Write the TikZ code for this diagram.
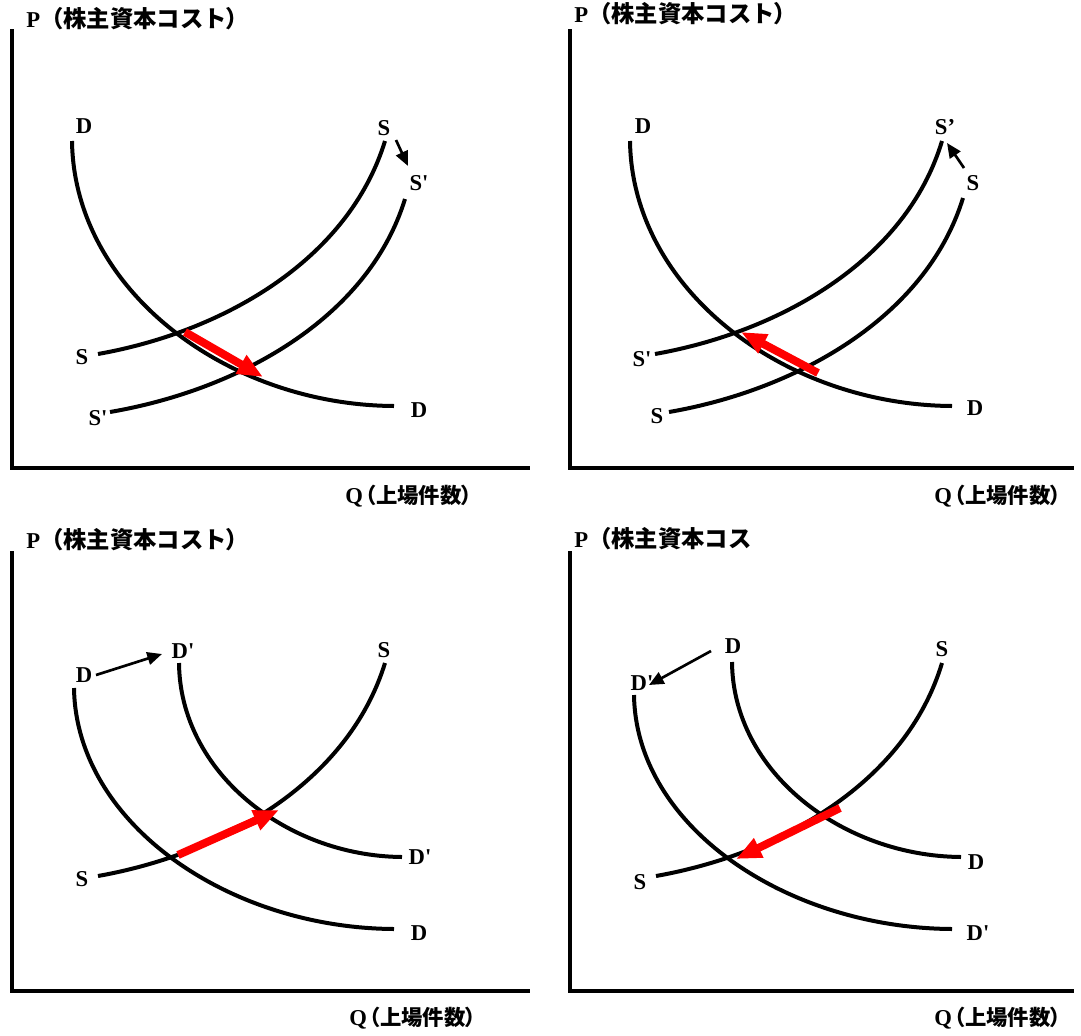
\documentclass[tikz,border=0pt]{standalone}
\usepackage{fontspec}
\setmainfont{Liberation Serif}
\newfontfamily\cjk{Noto Sans CJK JP}
\newfontfamily\cjkp{Noto Sans CJK JP}[RawFeature=+palt]
\usetikzlibrary{arrows.meta}
\newcommand{\pr}{\textquotesingle}
\begin{document}
\begin{tikzpicture}[x=0.75pt,y=-0.75pt,
  axis/.style={line width=3pt},
  curve/.style={line width=3pt},
  lbl/.style={font=\fontsize{17}{19}\selectfont\bfseries, inner sep=0pt},
  ttl/.style={font=\fontsize{17}{19}\selectfont\bfseries, inner sep=0pt, anchor=base west},
  shiftarrow/.style={line width=2pt,-{Triangle[length=11pt,width=9.5pt]}},
  movearrow/.style={draw=red, line width=6pt, -{Triangle[length=19pt,width=15pt]}}]
\useasboundingbox (0,0) rectangle (1081,1035);
\newcommand{\ttltext}[1]{P{\fontsize{17.5}{20}\selectfont\cjk （#1}}
\newcommand{\ttlend}{{\fontsize{17.5}{20}\selectfont\cjkp ）}}
\newcommand{\qtext}{Q{\fontsize{16}{18}\selectfont\hspace{2pt}{\cjkp （}{\cjk 上場件数}{\cjkp ）}}}

% ---------------- Panel 1 ----------------
\coordinate (a1t) at (12,29);
\coordinate (a1o) at (12,468);
\coordinate (a1r) at (530,468);
\draw[axis] (a1t) -- (a1o) -- (a1r);
\node[ttl] (t1) at (26,27) {\ttltext{株主資本コスト}\ttlend};
\node[ttl] (q1) at (345,503) {\qtext};
\draw[curve] (72,141) .. controls (74,290) and (227,405) .. (394,406);
\draw[curve] (98,354) .. controls (222,332) and (348,261) .. (385,141);
\draw[curve] (110,412) .. controls (238,390) and (368,319) .. (405,199);
\node[lbl] (p1Dt) at (84,126) {D};
\node[lbl] (p1St) at (384,128) {S};
\node[lbl] (p1S2t) at (419,183) {S\pr};
\node[lbl] (p1Sl) at (82,357) {S};
\node[lbl] (p1S2l) at (98,418) {S\pr};
\node[lbl] (p1Db) at (419,410) {D};
\coordinate (m1a) at (396,140);
\coordinate (m1b) at (408,166);
\draw[shiftarrow] (m1a) -- (m1b);
\coordinate (r1a) at (185,332);
\coordinate (r1b) at (263,377);
\draw[movearrow] (r1a) -- (r1b);

% ---------------- Panel 2 ----------------
\coordinate (a2t) at (570,29);
\coordinate (a2o) at (570,468);
\coordinate (a2r) at (1074,468);
\draw[axis] (a2t) -- (a2o) -- (a2r);
\node[ttl] (t2) at (574,22) {\ttltext{株主資本コスト}\ttlend};
\node[ttl] (q2) at (934,503) {\qtext};
\draw[curve] (630,141) .. controls (632,290) and (785,405) .. (952,406);
\draw[curve] (655,354) .. controls (779,332) and (906,261) .. (942,141);
\draw[curve] (669,412) .. controls (796,390) and (926,318) .. (963,198);
\node[lbl] (p2Dt) at (643,126) {D};
\node[lbl] (p2S2t) at (945,127) {S’};
\node[lbl] (p2St) at (973,183) {S};
\node[lbl] (p2S2l) at (642,359) {S\pr};
\node[lbl] (p2Sl) at (657,416) {S};
\node[lbl] (p2Db) at (975,408) {D};
\coordinate (m2a) at (964,168);
\coordinate (m2b) at (947,143);
\draw[shiftarrow] (m2a) -- (m2b);
\coordinate (r2a) at (818,373);
\coordinate (r2b) at (741,332);
\draw[movearrow] (r2a) -- (r2b);

% ---------------- Panel 3 ----------------
\coordinate (a3t) at (12,551);
\coordinate (a3o) at (12,991);
\coordinate (a3r) at (530,991);
\draw[axis] (a3t) -- (a3o) -- (a3r);
\node[ttl] (t3) at (26,548) {\ttltext{株主資本コスト}\ttlend};
\node[ttl] (q3) at (349,1025) {\qtext};
\draw[curve] (74,688) .. controls (76,823) and (228,928) .. (394,929);
\draw[curve] (179,663) .. controls (180,772) and (286,856) .. (402,857);
\draw[curve] (98,876) .. controls (222,854) and (348,783) .. (385,663);
\node[lbl] (p3Dl) at (84,675) {D};
\node[lbl] (p3D2t) at (183,651) {D\pr};
\node[lbl] (p3St) at (384,650) {S};
\node[lbl] (p3Sl) at (82,879) {S};
\node[lbl] (p3D2r) at (420,857) {D\pr};
\node[lbl] (p3Db) at (419,933) {D};
\coordinate (m3a) at (96,675);
\coordinate (m3b) at (162,654);
\draw[shiftarrow] (m3a) -- (m3b);
\coordinate (r3a) at (178,855);
\coordinate (r3b) at (279,810);
\draw[movearrow] (r3a) -- (r3b);

% ---------------- Panel 4 ----------------
\coordinate (a4t) at (570,551);
\coordinate (a4o) at (570,991);
\coordinate (a4r) at (1074,991);
\draw[axis] (a4t) -- (a4o) -- (a4r);
\node[ttl] (t4) at (574,547) {\ttltext{株主資本コス}};
\node[ttl] (q4) at (934,1025) {\qtext};
\draw[curve] (732,662) .. controls (733,772) and (842,856) .. (961,857);
\draw[curve] (634,695) .. controls (636,827) and (787,928) .. (952,929);
\draw[curve] (656,876) .. controls (780,854) and (906,783) .. (942,663);
\node[lbl] (p4Dt) at (733,646) {D};
\node[lbl] (p4D2l) at (642,683) {D\pr};
\node[lbl] (p4St) at (942,649) {S};
\node[lbl] (p4Sl) at (640,882) {S};
\node[lbl] (p4Dr) at (976,862) {D};
\node[lbl] (p4D2b) at (978,933) {D\pr};
\coordinate (m4a) at (711,651);
\coordinate (m4b) at (649,685);
\draw[shiftarrow] (m4a) -- (m4b);
\coordinate (r4a) at (840,808);
\coordinate (r4b) at (736,859);
\draw[movearrow] (r4a) -- (r4b);
\end{tikzpicture}
\end{document}
